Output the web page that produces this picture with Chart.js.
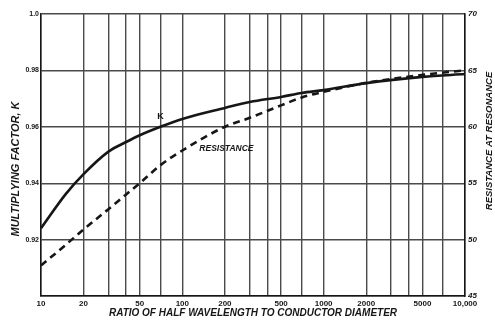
<!DOCTYPE html>
<html>
<head>
<meta charset="utf-8">
<script src="https://cdn.jsdelivr.net/npm/chart.js@4/dist/chart.umd.min.js"></script>
<style>
  html, body { margin: 0; padding: 0; background: #fff; }
  #chart { display: block; }
</style>
</head>
<body>
<canvas id="chart" width="495" height="323"></canvas>
<script>
// Ratio of half wavelength to conductor diameter (x positions of the samples)
const ratios = [10, 15, 20, 30, 40, 50, 70, 100, 200, 300, 500, 700, 1000, 2000, 5000, 10000];
// Multiplying factor K (left axis)
const kValues = [0.924, 0.9362, 0.9432, 0.9512, 0.9546, 0.957, 0.960, 0.9628, 0.9667, 0.9688, 0.9706, 0.972, 0.973, 0.9755, 0.9777, 0.9787];
// Resistance at resonance (right axis)
const resValues = [47.7, 49.55, 50.9, 52.7, 54.0, 55.0, 56.6, 57.9, 60.0, 60.8, 61.9, 62.6, 63.1, 63.9, 64.6, 65.0];

// Axis ticks
const xGrid = [10, 20, 30, 40, 50, 70, 100, 200, 300, 400, 500, 700, 1000, 2000, 3000, 4000, 5000, 7000, 10000];
const xTickValues = [10, 20, 50, 100, 200, 500, 1000, 2000, 5000, 10000];
const xTickLabels = ['10', '20', '50', '100', '200', '500', '1000', '2000', '5000', '10,000'];
const kTickValues = [0.90, 0.92, 0.94, 0.96, 0.98, 1.0];
const kTickLabels = ['', '0.92', '0.94', '0.96', '0.98', '1.0'];
const resTickValues = [45, 50, 55, 60, 65, 70];
const resTickLabels = ['45', '50', '55', '60', '65', '70'];

const FONT = "'Liberation Sans', Arial, sans-serif";
const INK = '#161616';
const GRID = '#4a4a4a';

// Axis titles and curve labels drawn as text on top of the chart
const textPlugin = {
    id: 'chartText',
    afterDraw(chart) {
        const { ctx, scales } = chart;
        ctx.save();
        ctx.fillStyle = INK;
        ctx.textAlign = 'center';
        ctx.textBaseline = 'middle';

        // left axis title
        ctx.save();
        ctx.font = `italic bold 11px ${FONT}`;
        ctx.translate(16, 169);
        ctx.rotate(-Math.PI / 2);
        ctx.fillText('MULTIPLYING FACTOR, K', 0, 0);
        ctx.restore();

        // right axis title
        ctx.save();
        ctx.font = `italic bold 9.5px ${FONT}`;
        ctx.translate(489, 141);
        ctx.rotate(-Math.PI / 2);
        ctx.fillText('RESISTANCE AT RESONANCE', 0, 0);
        ctx.restore();

        // curve labels
        ctx.font = `bold 9px ${FONT}`;
        ctx.fillText('K', scales.x.getPixelForValue(70), scales.y.getPixelForValue(0.9635));
        ctx.font = `italic bold 8.5px ${FONT}`;
        ctx.fillText('RESISTANCE', scales.x.getPixelForValue(205), scales.y.getPixelForValue(0.9521));
        ctx.restore();
    }
};

new Chart(document.getElementById('chart'), {
    type: 'line',
    data: {
        datasets: [{
            label: 'K',
            data: ratios.map((r, i) => ({ x: r, y: kValues[i] })),
            yAxisID: 'y',
            borderColor: INK,
            borderWidth: 2.6,
            pointRadius: 0,
            cubicInterpolationMode: 'monotone',
            fill: false
        }, {
            label: 'Resistance',
            data: ratios.map((r, i) => ({ x: r, y: resValues[i] })),
            yAxisID: 'y2',
            borderColor: INK,
            borderWidth: 2.6,
            borderDash: [7, 5],
            pointRadius: 0,
            cubicInterpolationMode: 'monotone',
            fill: false
        }]
    },
    options: {
        responsive: false,
        devicePixelRatio: 1,
        animation: false,
        layout: { padding: { top: 14, left: 0, right: 0, bottom: 0 } },
        plugins: {
            legend: { display: false },
            tooltip: { enabled: false }
        },
        scales: {
            x: {
                type: 'logarithmic',
                position: 'bottom',
                min: 10,
                max: 10000,
                afterBuildTicks: (scale) => { scale.ticks = xGrid.map(v => ({ value: v })); },
                afterFit: (scale) => { scale.height = 27; },
                ticks: {
                    autoSkip: false,
                    maxRotation: 0,
                    padding: 3,
                    color: INK,
                    font: { family: FONT, size: 8, weight: 'bold' },
                    callback: function(value) {
                        const i = xTickValues.indexOf(value);
                        return i >= 0 ? xTickLabels[i] : '';
                    }
                },
                grid: { color: GRID, lineWidth: 1.4, drawTicks: false },
                border: { color: INK, width: 1.5 },
                title: {
                    display: true,
                    text: 'RATIO OF HALF WAVELENGTH TO CONDUCTOR DIAMETER',
                    color: INK,
                    font: { family: FONT, size: 10, weight: 'bold', style: 'italic' },
                    padding: { top: 0, bottom: 4 }
                }
            },
            y: {
                position: 'left',
                min: 0.90,
                max: 1.0,
                afterBuildTicks: (scale) => { scale.ticks = kTickValues.map(v => ({ value: v })); },
                afterFit: (scale) => { scale.width = 41; },
                ticks: {
                    padding: 2,
                    color: INK,
                    font: { family: FONT, size: 7, weight: 'bold' },
                    callback: function(value) {
                        const i = kTickValues.findIndex(v => Math.abs(v - value) < 1e-6);
                        return i >= 0 ? kTickLabels[i] : '';
                    }
                },
                grid: { color: GRID, lineWidth: 1.4, drawTicks: false },
                border: { color: INK, width: 1.5 }
            },
            y2: {
                position: 'right',
                min: 45,
                max: 70,
                afterBuildTicks: (scale) => { scale.ticks = resTickValues.map(v => ({ value: v })); },
                afterFit: (scale) => { scale.width = 30; },
                ticks: {
                    padding: 3,
                    color: INK,
                    font: { family: FONT, size: 8, weight: 'bold', style: 'italic' },
                    callback: function(value) {
                        const i = resTickValues.indexOf(value);
                        return i >= 0 ? resTickLabels[i] : '';
                    }
                },
                grid: { display: false, drawTicks: false },
                border: { color: INK, width: 1.5 }
            }
        }
    },
    plugins: [textPlugin]
});
</script>
</body>
</html>
